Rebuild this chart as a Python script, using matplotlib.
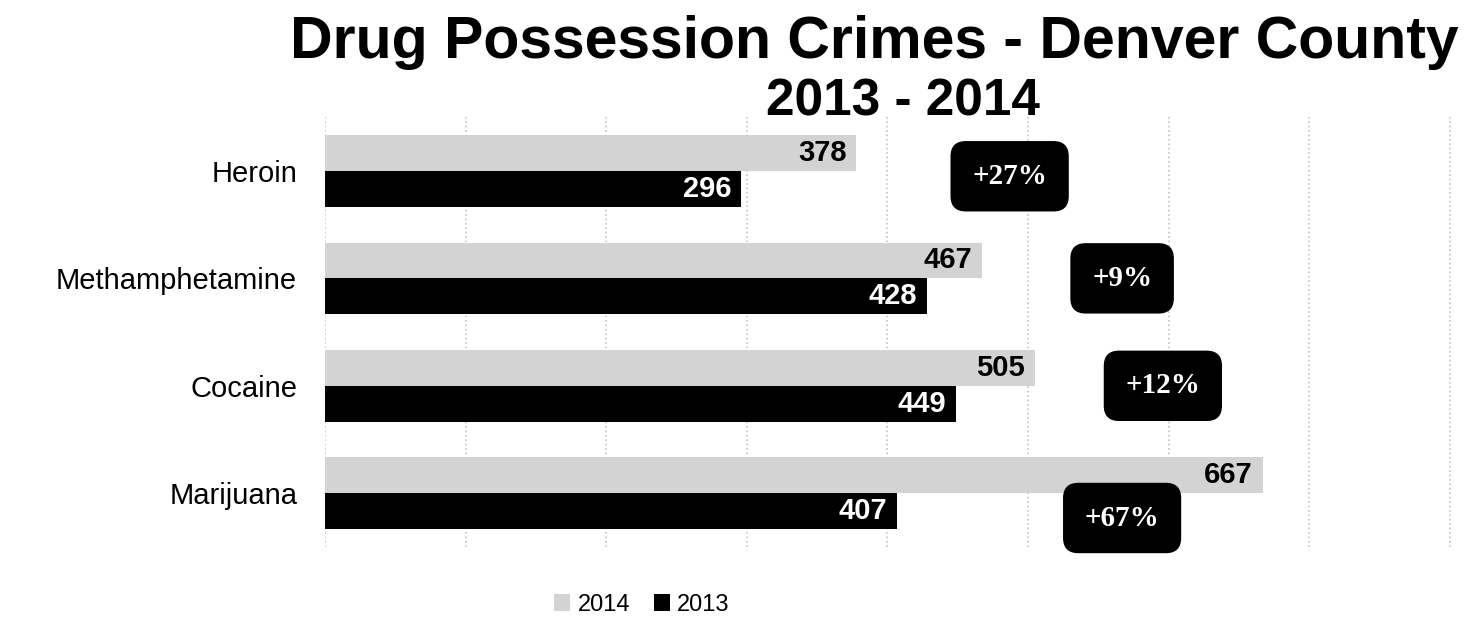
import matplotlib
matplotlib.use("Agg")
import matplotlib.pyplot as plt
import numpy as np

plt.rcParams['font.family'] = 'Liberation Sans'

# data
categories = ['Heroin', 'Methamphetamine', 'Cocaine', 'Marijuana']
v2014 = [378, 467, 505, 667]
v2013 = [296, 428, 449, 407]
changes = ['+27%', '+9%', '+12%', '+67%']

# where the change boxes sit (data units)
box_x = [487, 567, 596, 567]
box_dy = [0.05, 0.0, 0.0, 0.23]

fig = plt.figure(figsize=(14.82, 6.34), dpi=100)
ax = fig.add_axes([0.2193, 0.1372, 0.7807, 0.678])

y = np.arange(len(categories))
h = 0.333
b14 = ax.barh(y - h / 2, v2014, height=h, color='#d3d3d3', label='2014', zorder=2)
b13 = ax.barh(y + h / 2, v2013, height=h, color='black', label='2013', zorder=2)

for i in range(len(categories)):
    ax.annotate(str(v2014[i]), (v2014[i], y[i] - h / 2), xytext=(-7, 0),
                textcoords='offset points', ha='right', va='center',
                fontsize=21, fontweight='bold', color='black', zorder=3)
    ax.annotate(str(v2013[i]), (v2013[i], y[i] + h / 2), xytext=(-7, 0),
                textcoords='offset points', ha='right', va='center',
                fontsize=21, fontweight='bold', color='white', zorder=3)
    ax.text(box_x[i], y[i] + box_dy[i], changes[i], ha='center', va='center',
            fontsize=21, fontweight='bold', color='white', family='Liberation Serif',
            bbox=dict(boxstyle='round,pad=0.72,rounding_size=0.5', fc='black', ec='black'),
            zorder=4)

ax.set_xlim(0, 823)
ax.set_ylim(3.5, -0.5)
ax.set_xticks(np.arange(0, 801, 100))
ax.set_xticklabels([])
ax.set_yticks(y)
ax.set_yticklabels(categories, fontsize=21)
ax.tick_params(length=0, pad=20)
ax.grid(axis='x', color='#c4c4c4', linestyle=':', linewidth=1.2, zorder=0)
for s in ax.spines.values():
    s.set_visible(False)

fig.text(0.59, 1 - 58 / 634, 'Drug Possession Crimes - Denver County',
         ha='center', va='baseline', fontsize=42.5, fontweight='bold')
fig.text(0.609, 1 - 115 / 634, '2013 - 2014',
         ha='center', va='baseline', fontsize=37, fontweight='bold')

fig.legend(handles=[b14, b13], labels=['2014', '2013'], loc='center',
           bbox_to_anchor=(0.433, 0.046), ncol=2, frameon=False, fontsize=17,
           handlelength=0.7, handleheight=0.7, handletextpad=0.3, columnspacing=1.0)

fig.savefig('out.png', dpi=100)
